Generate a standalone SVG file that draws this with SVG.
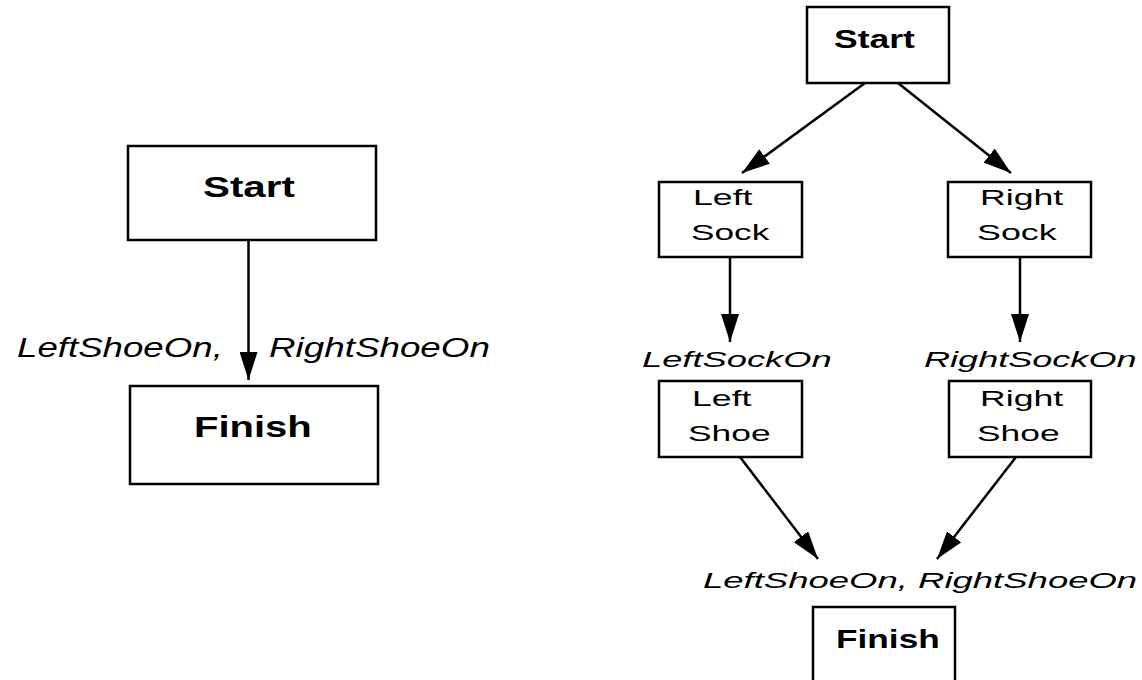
<svg xmlns="http://www.w3.org/2000/svg" width="1142" height="680" viewBox="0 0 1142 680">
<defs>
<style>
.box{fill:#fff;stroke:#000;stroke-width:2.5}
.edge{stroke:#000;stroke-width:2.5;fill:none}
.b{font-family:"Liberation Sans",Arial,sans-serif;font-weight:bold;fill:#000}
.r{font-family:"Liberation Sans",Arial,sans-serif;fill:#000}
.i{font-family:"Liberation Sans",Arial,sans-serif;font-style:italic;fill:#000}
</style>
<marker id="ah" markerUnits="userSpaceOnUse" markerWidth="30" markerHeight="18" refX="28" refY="9" orient="auto" viewBox="0 0 30 18">
<path d="M0,0 L28,9 L0,18 z" fill="#000"/>
</marker>
</defs>
<rect width="1142" height="680" fill="#fff"/>
<g id="connectors">
<line class="edge" x1="248.5" y1="240" x2="248.5" y2="380" marker-end="url(#ah)"/>
<line class="edge" x1="865" y1="83" x2="742" y2="173" marker-end="url(#ah)"/>
<line class="edge" x1="898" y1="83" x2="1011" y2="173" marker-end="url(#ah)"/>
<line class="edge" x1="730" y1="257" x2="730" y2="342" marker-end="url(#ah)"/>
<line class="edge" x1="1020" y1="257" x2="1020" y2="342" marker-end="url(#ah)"/>
<line class="edge" x1="740" y1="457" x2="818" y2="559" marker-end="url(#ah)"/>
<line class="edge" x1="1016" y1="457" x2="937" y2="559" marker-end="url(#ah)"/>
</g>
<g id="labels">
<text class="i" font-size="28" transform="translate(17,357) scale(1.31,1)">LeftShoeOn,</text>
<text class="i" font-size="28" transform="translate(269,357) scale(1.315,1)">RightShoeOn</text>
<text class="i" font-size="22" transform="translate(642,367) scale(1.65,1)">LeftSockOn</text>
<text class="i" font-size="22" transform="translate(924,367) scale(1.64,1)">RightSockOn</text>
<text class="i" font-size="22" transform="translate(703,588) scale(1.66,1)">LeftShoeOn, RightShoeOn</text>
</g>
<g id="start1">
<rect class="box" x="128" y="146" width="248" height="94"/>
<text class="b" font-size="29" transform="translate(203,197) scale(1.39,1)">Start</text>
</g>
<g id="finish1">
<rect class="box" x="130" y="386" width="248" height="98"/>
<text class="b" font-size="29" transform="translate(194,437) scale(1.38,1)">Finish</text>
</g>
<g id="start2">
<rect class="box" x="807" y="7" width="142" height="76"/>
<text class="b" font-size="25" transform="translate(834,48) scale(1.42,1)">Start</text>
</g>
<g id="leftsock">
<rect class="box" x="659" y="182" width="143" height="75"/>
<text class="r" font-size="22" transform="translate(693,205) scale(1.62,1)">Left</text>
<text class="r" font-size="22" transform="translate(691,240) scale(1.6,1)">Sock</text>
</g>
<g id="rightsock">
<rect class="box" x="948" y="182" width="143" height="75"/>
<text class="r" font-size="22" transform="translate(980,205) scale(1.62,1)">Right</text>
<text class="r" font-size="22" transform="translate(977,240) scale(1.63,1)">Sock</text>
</g>
<g id="leftshoe">
<rect class="box" x="659" y="381" width="143" height="76"/>
<text class="r" font-size="22" transform="translate(692,406) scale(1.62,1)">Left</text>
<text class="r" font-size="22" transform="translate(688,441) scale(1.61,1)">Shoe</text>
</g>
<g id="rightshoe">
<rect class="box" x="949" y="381" width="142" height="76"/>
<text class="r" font-size="22" transform="translate(980,406) scale(1.62,1)">Right</text>
<text class="r" font-size="22" transform="translate(977,441) scale(1.61,1)">Shoe</text>
</g>
<g id="finish2">
<rect class="box" x="813" y="607" width="142" height="90"/>
<text class="b" font-size="25" transform="translate(836,648) scale(1.41,1)">Finish</text>
</g>
</svg>
